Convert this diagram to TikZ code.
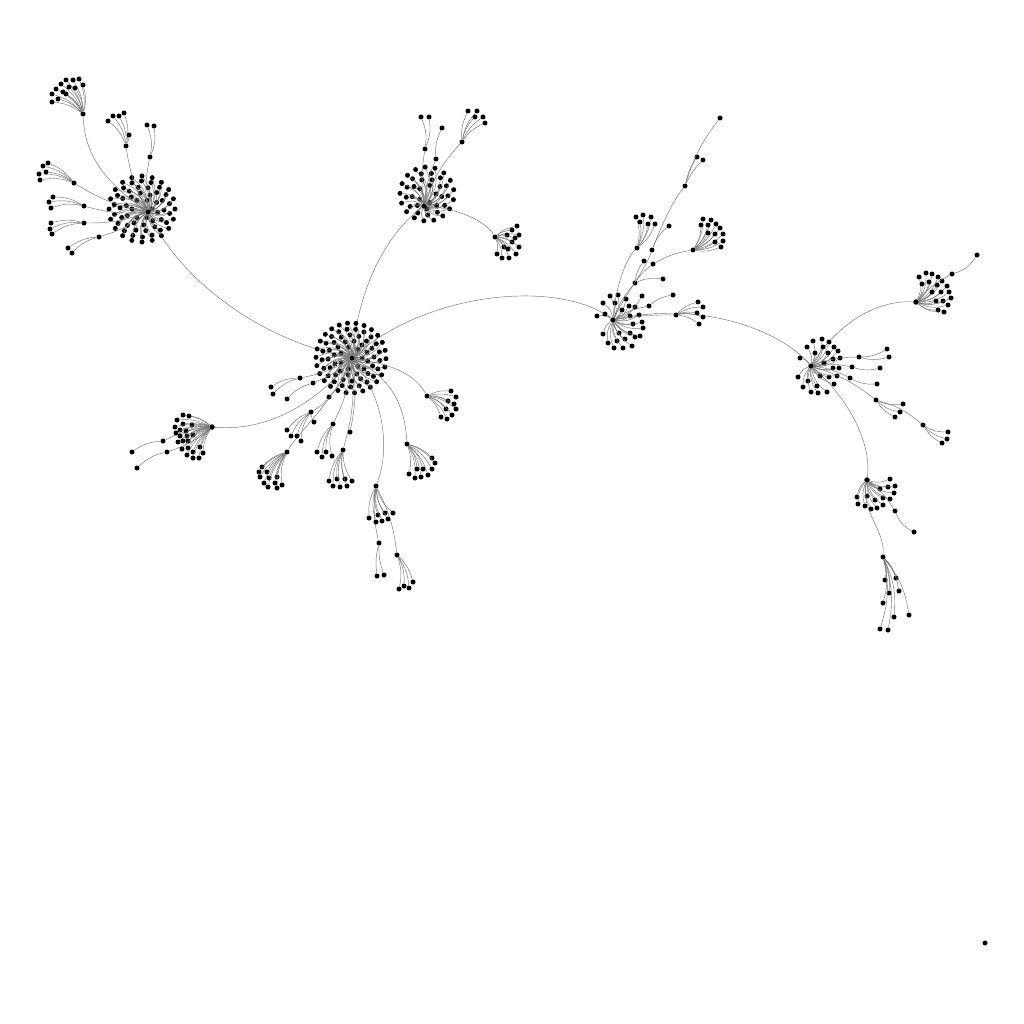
\documentclass[tikz,border=0pt]{standalone}
\begin{document}
\begin{tikzpicture}[x=0.02cm,y=-0.02cm]
\tikzset{
 dot/.style={circle,fill=black,inner sep=0pt,minimum size=0.1cm},
 hubdot/.style={circle,fill=black,inner sep=0pt,minimum size=0.11cm},
 lk/.style={draw=black!55,line width=0.25pt},
}
\newcommand\myfan[3]{%
 \foreach \xx/\yy [count=\i] in {#3} {
   \node[dot] (#1-\i) at (\xx,\yy) {};
   \draw[lk] (#1) to[bend left=#2] (#1-\i);
 }}
\newcommand\mydand[5]{%
 \foreach \r/\n/\p in {#5} {
   \foreach \k in {1,...,\n} {
     \node[dot] (#1-\r-\k) at ({#2+\r*cos(\p+\k*360/\n)},{#3+\r*sin(\p+\k*360/\n)}) {};
     \draw[lk] (#1) to[bend left=#4] (#1-\r-\k);
   }}}
\fill[white] (0,0) rectangle (1024,1024);
\useasboundingbox (0,0) rectangle (1024,1024);

% ---------------- hubs
\node[hubdot] (A) at (352,358) {};
\node[hubdot] (B) at (148,212) {};
\node[hubdot] (C) at (424,206) {};
\node[hubdot] (D) at (613,320) {};
\node[hubdot] (E) at (811,366) {};
\node[hubdot] (F) at (916,302) {};
\node[hubdot] (G) at (867,480) {};
\node[hubdot] (W) at (212,427) {};

% main links
\draw[lk] (B) .. controls (180,280) and (260,340) .. (A);
\draw[lk] (A) .. controls (358,290) and (385,235) .. (C);
\draw[lk] (A) .. controls (430,290) and (560,280) .. (D);
\draw[lk] (D) .. controls (700,300) and (780,330) .. (E);
\draw[lk] (E) .. controls (840,320) and (880,300) .. (F);
\draw[lk] (E) .. controls (845,395) and (872,440) .. (G);
\draw[lk] (W) .. controls (270,432) and (320,400) .. (A);

% dandelions
\mydand{A}{351}{358}{-25}{11/7/0,17/12/10,23/16/20,29/21/5,35/26/15}
\mydand{B}{142}{209}{-25}{10/6/0,16/10/12,22/14/3,28/18/9,33/20/0}
\mydand{C}{427}{194}{-25}{9/5/0,15/9/10,21/13/5,27/17/12}

% ---------------- B satellites
\node[dot] (b1) at (83,114) {};
\node[dot] (b2) at (126,146) {};
\node[dot] (b3) at (150,157) {};
\node[dot] (b4) at (74,183) {};
\node[dot] (b5) at (84,206) {};
\node[dot] (b6) at (84,223) {};
\node[dot] (b7) at (99,237) {};
\draw[lk] (B) .. controls (110,185) and (85,160) .. (b1);
\foreach \s in {b2,b3,b4,b5,b6,b7} \draw[lk] (B) to[bend left=10] (\s);
\myfan{b1}{-15}{52/94,52/102,56/89,58/99,61/84,63/92,66/80,66/94,69/87,73/80,75/88,79/79,83/85}
\myfan{b2}{-15}{108/121,113/116,119/116,124/113,129/135}
\myfan{b3}{-15}{147/125,154/126}
\myfan{b4}{-15}{43/166,48/163,39/174,46/172,40/180}
\myfan{b5}{-15}{53/197,49/202,51/208}
\myfan{b6}{-15}{51/223,50/229,52/234}
\myfan{b7}{-15}{68/248,72/253}

% ---------------- A satellites
\node[dot] (a1) at (300,378) {};
\node[dot] (a2) at (313,383) {};
\node[dot] (a3) at (329,397) {};
\node[dot] (a4) at (311,412) {};
\node[dot] (a5) at (287,452) {};
\node[dot] (a6) at (333,424) {};
\node[dot] (a7) at (343,450) {};
\node[dot] (a8) at (407,444) {};
\node[dot] (a9) at (427,396) {};
\node[dot] (a10) at (376,486) {};
\node[dot] (a11) at (379,543) {};
\node[dot] (a12) at (397,555) {};
\node[dot] (a13) at (350,432) {};
\foreach \s in {a1,a2,a3,a6,a7,a13} \draw[lk] (A) to[bend left=10] (\s);
\draw[lk] (a3) to[bend left=10] (a4);
\draw[lk] (A) .. controls (335,400) and (300,430) .. (a5);
\draw[lk] (A) .. controls (395,380) and (405,410) .. (a8);
\draw[lk] (A) .. controls (395,365) and (415,375) .. (a9);
\draw[lk] (A) .. controls (385,400) and (390,450) .. (a10);
\draw[lk] (a10) to[bend right=10] (a11);
\draw[lk] (a10) to[bend left=10] (a12);
\myfan{a1}{-15}{271/387,273/394}
\myfan{a2}{-15}{287/399}
\myfan{a4}{-15}{287/430,291/436,297/436,301/441,314/422}
\myfan{a5}{-15}{262/467,259/472,267/472,260/477,269/478,277/477,264/483,268/487,275/483,277/488,282/485}
\myfan{a6}{-15}{317/452,322/457,326/452,332/456}
\myfan{a7}{-15}{329/481,333/486,337/479,340/487,345/479,347/486,352/481}
\myfan{a8}{15}{409/474,415/478,417/469,421/477,423/469,428/475,432/458,435/463,432/469}
\myfan{a9}{15}{451/391,456/397,448/401,454/404,446/409,456/409,441/417,452/415,447/419}
\myfan{a10}{-15}{369/518,378/515,385/513,393/513,376/522,382/521,388/519}
\myfan{a11}{-10}{377/576,384/575}
\myfan{a12}{15}{399/589,404/586,409/588,413/582}

% ---------------- W cluster
\node[dot] (w1) at (163,441) {};
\node[dot] (w2) at (167,452) {};
\draw[lk] (W) to[bend right=10] (w1);
\draw[lk] (W) to[bend left=10] (w2);
\myfan{W}{-15}{183/415,189/416,177/420,183/424,192/425,175/427,180/430,186/431,176/433,180/436,187/436,193/435,178/442,183/441,188/441,182/449,188/448,193/452,200/447,187/455,193/458,199/458,203/453}
\myfan{w1}{-15}{132/452}
\myfan{w2}{-15}{137/468}

% ---------------- C satellites
\node[dot] (c1) at (425,149) {};
\node[dot] (c2) at (436,159) {};
\node[dot] (c3) at (462,142) {};
\node[dot] (c4) at (495,237) {};
\draw[lk] (C) to[bend left=8] (c1);
\draw[lk] (C) to[bend left=8] (c2);
\draw[lk] (C) to[bend left=12] (c3);
\draw[lk] (C) .. controls (455,208) and (485,220) .. (c4);
\myfan{c1}{-15}{421/117,429/117}
\myfan{c2}{15}{442/128}
\myfan{c3}{15}{468/111,477/111,475/117,483/117,485/123}
\myfan{c4}{15}{517/226,512/230,519/235,507/235,515/238,512/242,519/247,504/247,508/249,497/254,502/258,509/258,516/254}

% ---------------- D cluster
\myfan{D}{-20}{603/303,597/316,605/314,610/296,618/295,626/299,615/303,622/310,629/306,635/307,630/316,639/315,633/324,642/322,643/328,603/334,608/343,619/333,617/341,614/348,625/339,623/348,630/333,635/337,632/346,640/336,642/296}
\node[dot] (d1) at (649,306) {};
\node[dot] (d4) at (635,283) {};
\node[dot] (d5) at (653,264) {};
\node[dot] (d6) at (693,250) {};
\node[dot] (d7) at (637,248) {};
\node[dot] (d8) at (652,250) {};
\node[dot] (d9) at (685,186) {};
\node[dot] (d10) at (676,315) {};
\draw[lk] (D) to[bend left=10] (d1);
\draw[lk] (D) to[bend left=10] (d4);
\draw[lk] (d4) to[bend left=10] (d5);
\draw[lk] (d5) to[bend left=10] (d6);
\draw[lk] (D) .. controls (615,290) and (625,260) .. (d7);
\draw[lk] (D) .. controls (625,295) and (645,270) .. (d8);
\draw[lk] (d8) .. controls (660,230) and (670,205) .. (d9);
\draw[lk] (D) to[bend left=5] (d10);
\myfan{d1}{15}{673/295}
\myfan{d4}{15}{644/261,663/279}
\myfan{d6}{-15}{703/219,711/220,708/225,716/224,720/228,708/233,715/234,723/234,715/242,723/241,721/247,701/225}
\myfan{d7}{-15}{636/217,643/215,651/217,640/222,648/224,655/224}
\myfan{d8}{15}{669/226}
\myfan{d9}{10}{697/157,703/160,720/118}
\myfan{d10}{15}{698/302,703/307,697/313,703/317,699/324}

% ---------------- E cluster
\myfan{E}{-20}{813/341,822/339,829/342,807/347,823/347,834/347,800/358,815/353,828/353,838/351,833/359,840/358,824/363,833/368,839/368,798/377,808/381,820/376,829/377,837/376,803/387,811/392,818/393,827/392,834/384,817/386}
\node[dot] (e1) at (859,357) {};
\node[dot] (e2) at (852,367) {};
\node[dot] (e3) at (850,378) {};
\node[dot] (e4) at (876,400) {};
\node[dot] (e5) at (923,425) {};
\foreach \s in {e1,e2,e3,e4} \draw[lk] (E) to[bend left=10] (\s);
\draw[lk] (e4) to[bend left=12] (e5);
\myfan{e1}{-15}{887/349,889/357}
\myfan{e2}{-15}{880/368}
\myfan{e3}{-15}{877/384}
\myfan{e4}{-15}{903/404,900/412,895/417}
\myfan{e5}{-15}{948/432,947/439,942/443}

% ---------------- F cluster
\myfan{F}{-20}{919/277,926/273,932/274,938/277,922/284,929/282,942/281,937/285,947/286,932/292,941/292,949/292,936/301,943/301,951/298,938/310,948/305,944/312}
\node[dot] (f1) at (952,274) {};
\draw[lk] (F) to[bend left=10] (f1);
\myfan{f1}{-20}{977/255}

% ---------------- G cluster
\myfan{G}{-20}{890/479,888/487,895/486,880/489,894/493,857/497,867/496,875/500,883/498,890/499,858/504,865/506,871/509,877/508,883/505}
\node[dot] (g1) at (895,511) {};
\node[dot] (g2) at (883,557) {};
\draw[lk] (G) to[bend left=10] (g1);
\draw[lk] (G) .. controls (860,510) and (885,530) .. (g2);
\myfan{g1}{-20}{914/532}
\myfan{g2}{15}{885/580,896/578,889/593,899/591,883/603,894/617,909/615,880/629,888/630}

% isolated node
\node[dot] (iso) at (985,943) {};
\end{tikzpicture}
\end{document}
